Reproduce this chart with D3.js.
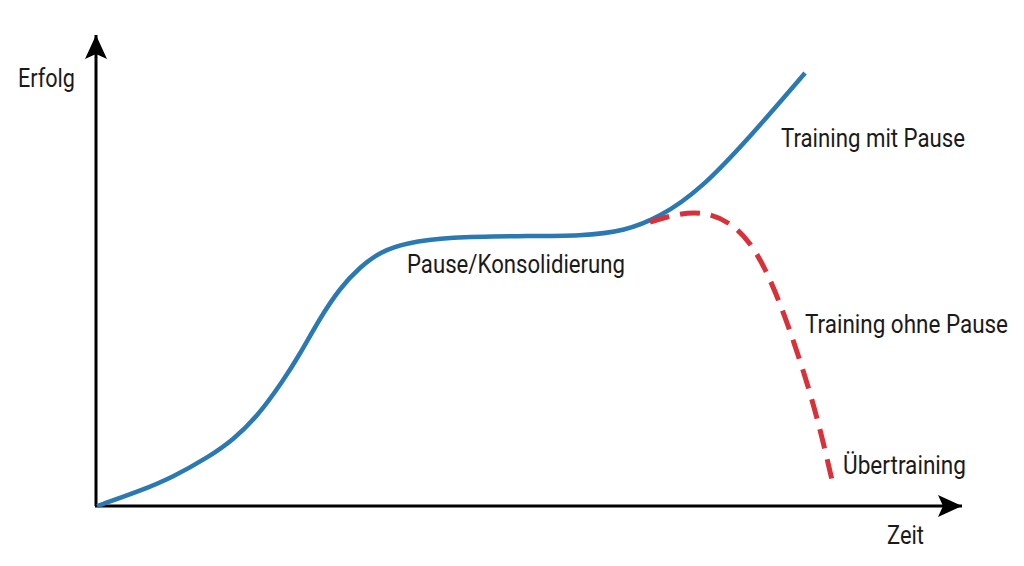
<!DOCTYPE html>
<html>
<head>
<meta charset="utf-8">
<script src="https://cdn.jsdelivr.net/npm/d3@7"></script>
<style>
  html, body { margin: 0; padding: 0; background: #fff; }
  svg { display: block; }
</style>
</head>
<body>
<div id="chart"></div>
<script>
  // Erfolg über Zeit, relative Einheiten 0..100
  const successX = [0, 4.97, 8.79, 12.72, 15.72, 18.50, 21.50, 23.47, 25.78, 28.09, 30.40, 32.72, 35.61, 40.81, 48.55, 56.18, 61.04, 65.09, 69.71, 75.49, 81.85];
  const successY = [0, 3.18, 6.16, 10.19, 14.01, 18.90, 26.54, 32.27, 39.92, 46.28, 50.74, 53.93, 55.84, 57.11, 57.32, 57.32, 58.39, 61.36, 67.09, 78.34, 91.93];

  const overX = [63.93, 67.40, 70.29, 73.18, 75.49, 77.23, 78.96, 80.69, 82.43, 83.82, 84.97];
  const overY = [60.30, 62.21, 62.42, 60.30, 56.05, 50.53, 43.10, 34.18, 24.20, 14.65, 5.52];

  const labels = ["Erfolg", "Zeit", "Pause/Konsolidierung", "Training mit Pause", "Training ohne Pause", "Übertraining"];

  const width = 1024, height = 566;
  const svg = d3.select("#chart").append("svg")
    .attr("width", width)
    .attr("height", height);

  const x = d3.scaleLinear().domain([0, 100]).range([97, 962]);
  const y = d3.scaleLinear().domain([0, 100]).range([506, 35]);

  const defs = svg.append("defs");
  defs.append("marker")
    .attr("id", "arrow")
    .attr("viewBox", "0 0 24 22")
    .attr("refX", 24)
    .attr("refY", 11)
    .attr("markerWidth", 24)
    .attr("markerHeight", 22)
    .attr("markerUnits", "userSpaceOnUse")
    .attr("orient", "auto")
    .append("path")
    .attr("d", "M0,0 L24,11 L0,22 L5,11 Z")
    .attr("fill", "#000");

  // axes
  svg.append("line")
    .attr("x1", x(0) - 1).attr("y1", y(0))
    .attr("x2", x(0) - 1).attr("y2", y(100))
    .attr("stroke", "#000").attr("stroke-width", 3)
    .attr("marker-end", "url(#arrow)");
  svg.append("line")
    .attr("x1", x(0) - 2).attr("y1", y(0))
    .attr("x2", x(100)).attr("y2", y(0))
    .attr("stroke", "#000").attr("stroke-width", 3)
    .attr("marker-end", "url(#arrow)");

  const line = d3.line()
    .x(d => x(d[0]))
    .y(d => y(d[1]))
    .curve(d3.curveBasis);

  const success = successX.map((v, i) => [v, successY[i]]);
  const over = overX.map((v, i) => [v, overY[i]]);

  svg.append("path")
    .datum(success)
    .attr("d", line)
    .attr("fill", "none")
    .attr("stroke", "#2b79b2")
    .attr("stroke-width", 4.5)
    .attr("stroke-linecap", "butt");

  svg.append("path")
    .datum(over)
    .attr("d", line)
    .attr("fill", "none")
    .attr("stroke", "#d7323a")
    .attr("stroke-width", 5)
    .attr("stroke-dasharray", "20 11");

  // text positions: [x, baseline, width]
  const textPos = [
    [18, 87, 57],
    [887, 544, 37],
    [407, 273, 218],
    [781, 147, 184],
    [805, 333, 203],
    [843, 474, 123]
  ];

  svg.append("g")
    .selectAll("text")
    .data(labels)
    .enter()
    .append("text")
    .attr("x", (d, i) => textPos[i][0])
    .attr("y", (d, i) => textPos[i][1])
    .attr("textLength", (d, i) => textPos[i][2])
    .attr("lengthAdjust", "spacingAndGlyphs")
    .style("font-family", "'Liberation Sans Narrow', 'Roboto', 'Liberation Sans', sans-serif")
    .style("font-size", "26px")
    .style("fill", "#1a1a1a")
    .text(d => d);
</script>
</body>
</html>
